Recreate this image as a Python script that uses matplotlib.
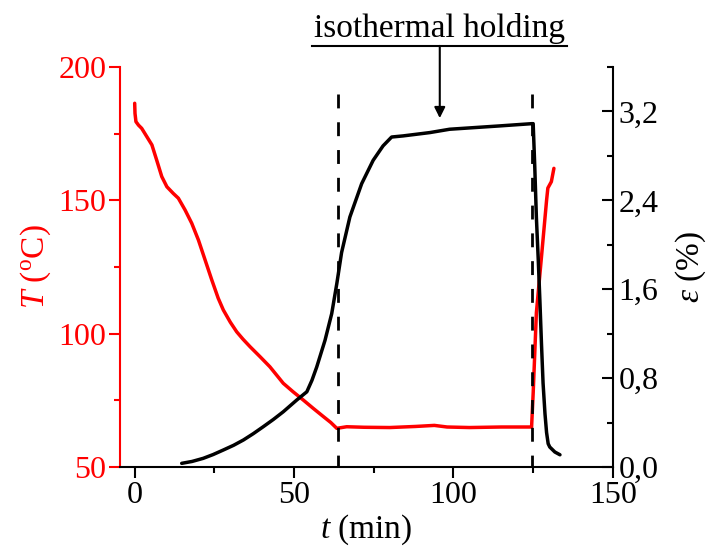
import matplotlib
matplotlib.use("Agg")
import matplotlib.pyplot as plt
from matplotlib.ticker import FixedLocator, FuncFormatter

plt.rcParams["font.family"] = "Liberation Serif"
plt.rcParams["mathtext.fontset"] = "custom"
plt.rcParams["mathtext.rm"] = "Liberation Serif"
plt.rcParams["mathtext.it"] = "Liberation Serif:italic"

# temperature curve T(t), degC
t_T = [0, 0.1, 0.4, 1.2, 2.2, 3.8, 5.4, 6.9, 8.5, 10.1, 12.1, 13.7, 15.8, 17.9,
       20.0, 22.1, 24.2, 26.2, 27.8, 30.0, 32.0, 34.0, 36.2, 39.3, 42.4, 46.6,
       49.7, 52.9, 56.0, 59.2, 61.5, 63.4, 66.5, 72, 80, 88, 94, 98, 105, 115,
       124.5, 125.0, 126.0, 127.6, 129.2, 129.6, 130.7, 131.5]
T = [186.4, 182.6, 179.5, 178.2, 177.0, 173.9, 170.8, 165.1, 158.9, 155.1,
     152.6, 150.8, 146.4, 141.4, 135.1, 127.6, 120.1, 113.3, 108.9, 104.3,
     100.7, 97.9, 95.1, 91.4, 87.6, 81.4, 78.2, 75.1, 72.0, 68.9, 66.7, 64.5,
     65.1, 64.9, 64.8, 65.2, 65.6, 65.0, 64.8, 65.0, 65.0, 77.8, 107.8, 128.8,
     150.0, 154.6, 157.0, 162.0]

# strain curve eps(t), %
t_e = [14.75, 18.0, 21.5, 24.6, 27.8, 31.0, 34.1, 37.2, 40.3, 43.5, 46.6, 50.8,
       54.0, 55.6, 57.1, 59.7, 61.8, 63.4, 64.9, 67.5, 71.2, 74.8, 77.9, 80.6,
       84.2, 92.6, 98.8, 114.5, 124.5, 125.0, 125.5, 126.0, 126.6, 127.1, 127.6,
       128.1, 128.7, 129.2, 129.7, 130.2, 131.8, 133.4]
eps = [0.033, 0.05, 0.078, 0.112, 0.153, 0.195, 0.243, 0.30, 0.362, 0.428,
       0.497, 0.602, 0.677, 0.78, 0.90, 1.14, 1.38, 1.65, 1.93, 2.25, 2.55,
       2.76, 2.89, 2.97, 2.98, 3.01, 3.04, 3.07, 3.09, 3.09, 2.70, 2.25, 1.86,
       1.50, 1.11, 0.755, 0.48, 0.31, 0.21, 0.18, 0.135, 0.11]

hold_start, hold_end = 63.7, 124.7

fig = plt.figure(figsize=(7.11, 5.48), dpi=100)
ax = fig.add_axes([0.1688, 0.1478, 0.6932, 0.7299])
ax2 = ax.twinx()

ax.plot(t_T, T, color="red", lw=2.5, solid_capstyle="round",
        solid_joinstyle="round")
ax2.plot(t_e, eps, color="black", lw=2.5, solid_capstyle="round",
         solid_joinstyle="round")

for x in (hold_start, hold_end):
    ax2.plot([x, x], [3.36, 0], color="black", lw=2.0, dashes=(5, 5))

ax.set_xlim(-4.6, 150)
ax.set_ylim(50, 200)
ax2.set_ylim(0, 3.6)

ax.spines["top"].set_visible(False)
ax.spines["right"].set_visible(False)
ax2.spines["top"].set_visible(False)
ax2.spines["left"].set_visible(False)
ax2.spines["bottom"].set_visible(False)
ax.spines["left"].set_color("red")
for sp in ("left", "bottom"):
    ax.spines[sp].set_linewidth(1.5)
ax2.spines["right"].set_linewidth(1.5)

ax.xaxis.set_major_locator(FixedLocator([0, 50, 100, 150]))
ax.xaxis.set_minor_locator(FixedLocator([25, 75, 125]))
ax.yaxis.set_major_locator(FixedLocator([50, 100, 150, 200]))
ax.yaxis.set_minor_locator(FixedLocator([75, 125, 175]))
ax2.yaxis.set_major_locator(FixedLocator([0, 0.8, 1.6, 2.4, 3.2]))
ax2.yaxis.set_minor_locator(FixedLocator([0.4, 1.2, 2.0, 2.8, 3.6]))
ax2.yaxis.set_major_formatter(FuncFormatter(lambda v, p: f"{v:.1f}".replace(".", ",")))

ax.tick_params(axis="x", which="major", direction="out", length=8, width=1.5,
               labelsize=23, pad=2)
ax.tick_params(axis="x", which="minor", direction="out", length=4, width=1.5)
ax.tick_params(axis="y", which="major", direction="out", length=8, width=1.5,
               color="red", labelcolor="red", labelsize=23, pad=2)
ax.tick_params(axis="y", which="minor", direction="out", length=4, width=1.5,
               color="red")
ax2.tick_params(axis="y", which="major", direction="in", length=8, width=1.5,
                labelsize=23, pad=4)
ax2.tick_params(axis="y", which="minor", direction="in", length=4, width=1.5)

ax.set_xlabel("$t$ (min)", fontsize=24, labelpad=2)
ax.set_ylabel("$T$ ($^{\\mathrm{o}}$C)", fontsize=24, color="red", labelpad=4)
ax2.set_ylabel("$ε$ (%)", fontsize=24, labelpad=11)

# annotation above the holding stage
ax2.plot([55.7, 135.6], [3.79, 3.79], color="black", lw=1.5, clip_on=False)
ax2.annotate("", xy=(95.7, 3.14), xytext=(95.7, 3.79),
             arrowprops=dict(arrowstyle="-|>", color="black", lw=1.5,
                             mutation_scale=16, shrinkA=0, shrinkB=0),
             annotation_clip=False)
ax2.text(95.7, 3.81, "isothermal holding", fontsize=24, ha="center",
         va="bottom", clip_on=False)

fig.savefig("out.png", dpi=100)
